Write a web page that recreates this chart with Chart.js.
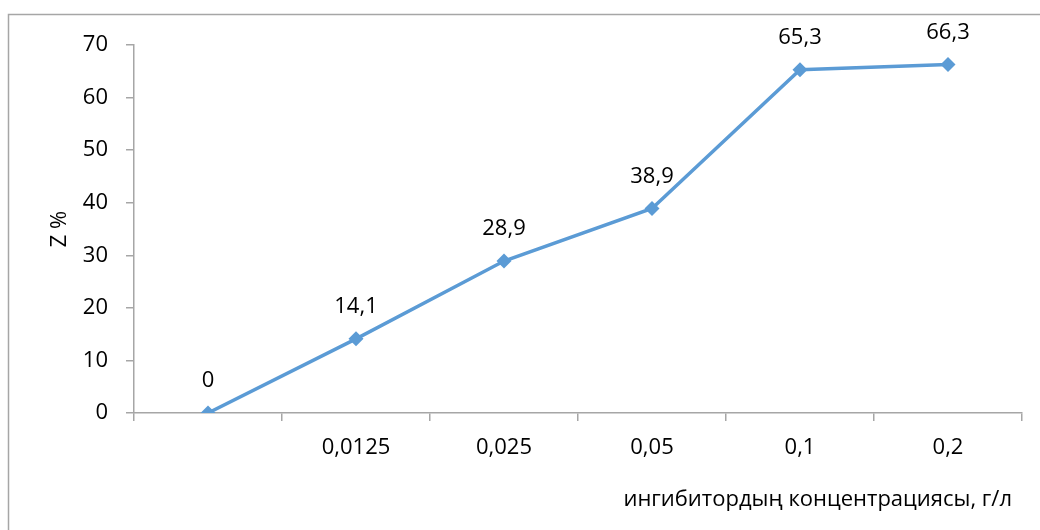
<!DOCTYPE html>
<html>
<head>
<meta charset="utf-8">
<script src="https://cdn.jsdelivr.net/npm/chart.js@4/dist/chart.umd.min.js"></script>
<style>
    body { margin: 0; background: #ffffff; }
    #wrap { width: 1040px; height: 530px; }
</style>
</head>
<body>
<div id="wrap"><canvas id="chart" width="1040" height="530"></canvas></div>
<script>
var categories = ["", "0,0125", "0,025", "0,05", "0,1", "0,2"];
var zValues = [0, 14.1, 28.9, 38.9, 65.3, 66.3];
var valueLabels = ["0", "14,1", "28,9", "38,9", "65,3", "66,3"];
var yTicks = [0, 10, 20, 30, 40, 50, 60, 70];
var xTitle = "ингибитордың концентрациясы, г/л";
var yTitle = "Z %";

var FONT = "'Open Sans', 'DejaVu Sans', sans-serif";
var AXIS_GREY = "#a6a6a6";
var LINE_BLUE = "#5b9bd5";

// frame round the chart, runs off the right and bottom edges like the original
var framePlugin = {
    id: "frame",
    beforeDraw: function(chart) {
        var ctx = chart.ctx;
        ctx.save();
        ctx.strokeStyle = AXIS_GREY;
        ctx.lineWidth = 1.5;
        ctx.strokeRect(8.5, 14.5, 1200, 700);
        ctx.restore();
    }
};

// value labels above each point (no datalabels plugin offline)
var valueLabelPlugin = {
    id: "valueLabels",
    afterDatasetsDraw: function(chart) {
        var ctx = chart.ctx;
        var meta = chart.getDatasetMeta(0);
        ctx.save();
        ctx.font = "22px " + FONT;
        ctx.fillStyle = "#000000";
        ctx.textAlign = "center";
        ctx.textBaseline = "middle";
        for (var i = 0; i < meta.data.length; i++) {
            var pt = meta.data[i];
            ctx.fillText(valueLabels[i], pt.x, pt.y - 32);
        }
        ctx.restore();
    }
};

// x title sits a bit inside the right end of the axis in the original
var xTitlePlugin = {
    id: "xTitle",
    afterDraw: function(chart) {
        var ctx = chart.ctx;
        var area = chart.chartArea;
        ctx.save();
        ctx.font = "22px " + FONT;
        ctx.fillStyle = "#000000";
        ctx.textAlign = "right";
        ctx.textBaseline = "middle";
        ctx.fillText(xTitle, area.right - 10, 500);
        ctx.restore();
    }
};

function createChart() {
    var context = document.getElementById("chart");

    return new Chart(context, {
        type: "line",
        data: {
            labels: categories,
            datasets: [{
                label: yTitle,
                data: zValues,
                borderColor: LINE_BLUE,
                backgroundColor: LINE_BLUE,
                borderWidth: 3.5,
                pointStyle: "rectRot",
                pointRadius: 7.5,
                pointBorderWidth: 0,
                tension: 0
            }]
        },
        options: {
            responsive: false,
            animation: false,
            layout: { padding: { left: 8, top: 45, right: 18, bottom: 0 } },
            plugins: {
                legend: { display: false },
                tooltip: { enabled: false }
            },
            scales: {
                x: {
                    offset: true,
                    grid: {
                        offset: true,
                        drawOnChartArea: false,
                        tickLength: 8,
                        color: AXIS_GREY,
                        lineWidth: 1.5
                    },
                    border: { color: AXIS_GREY, width: 1.5 },
                    ticks: {
                        color: "#000000",
                        font: { family: FONT, size: 22 },
                        padding: 14,
                        maxRotation: 0
                    },
                    afterFit: function(scale) { scale.height = 117; }
                },
                y: {
                    min: yTicks[0],
                    max: yTicks[yTicks.length - 1],
                    afterBuildTicks: function(scale) {
                        scale.ticks = yTicks.map(function(v) { return { value: v }; });
                    },
                    grid: {
                        drawOnChartArea: false,
                        tickLength: 8,
                        color: AXIS_GREY,
                        lineWidth: 1.5
                    },
                    border: { color: AXIS_GREY, width: 1.5 },
                    ticks: {
                        color: "#000000",
                        font: { family: FONT, size: 22 },
                        padding: 18
                    },
                    title: {
                        display: true,
                        text: yTitle,
                        color: "#000000",
                        font: { family: FONT, size: 22 },
                        padding: { top: 39, bottom: 0 }
                    },
                    afterFit: function(scale) { scale.width = 126; }
                }
            }
        },
        plugins: [framePlugin, valueLabelPlugin, xTitlePlugin]
    });
}

createChart();
</script>
</body>
</html>
